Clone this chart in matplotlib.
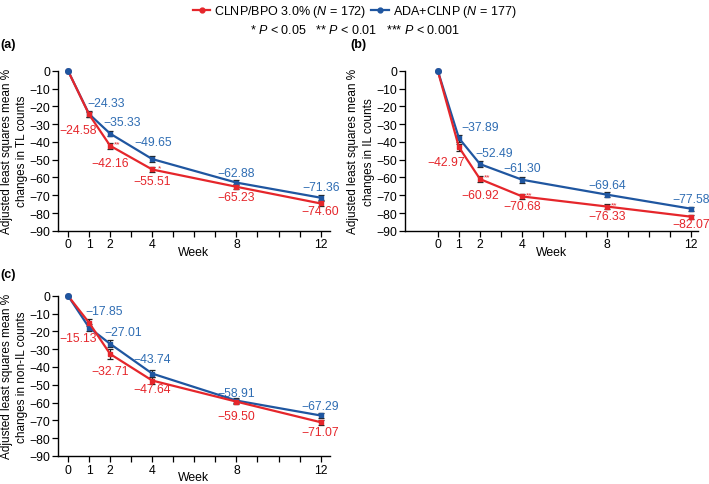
import matplotlib
matplotlib.use("Agg")
import matplotlib.pyplot as plt
from matplotlib.lines import Line2D
import numpy as np

plt.rcParams['font.family'] = ['Liberation Sans', 'DejaVu Sans']
plt.rcParams['mathtext.fontset'] = 'custom'
plt.rcParams['mathtext.rm'] = 'Liberation Sans'
plt.rcParams['mathtext.it'] = 'Liberation Sans:italic'

weeks = [0, 1, 2, 4, 8, 12]
week_ticks = [0, 1, 2, 4, 8, 12]

# Panel (a) TL counts
a_red = [0, -24.58, -42.16, -55.51, -65.23, -74.60]
a_blue = [0, -24.33, -35.33, -49.65, -62.88, -71.36]
a_red_se = [0, 1.5, 1.6, 1.5, 1.4, 1.4]
a_blue_se = [0, 1.5, 1.6, 1.5, 1.4, 1.4]
a_stars = {2: "**", 4: "*"}

# Panel (b) IL counts
b_red = [0, -42.97, -60.92, -70.68, -76.33, -82.07]
b_blue = [0, -37.89, -52.49, -61.30, -69.64, -77.58]
b_red_se = [0, 2.0, 1.8, 1.6, 1.4, 1.2]
b_blue_se = [0, 2.0, 1.8, 1.6, 1.4, 1.2]
b_stars = {2: "**", 4: "**", 8: "**"}

# Panel (c) non-IL counts
c_red = [0, -15.13, -32.71, -47.64, -59.50, -71.07]
c_blue = [0, -17.85, -27.01, -43.74, -58.91, -67.29]
c_red_se = [0, 2.0, 2.6, 2.2, 1.6, 1.5]
c_blue_se = [0, 2.0, 2.0, 1.8, 1.5, 1.5]
c_stars = {}

RED = '#e5262b'
BLUE = '#1f56a0'
RED_T = '#e5262b'
BLUE_T = '#2f6db3'

fig = plt.figure(figsize=(7.09, 4.85), dpi=100)

def panel(rect, xlim, red, blue, rse, bse, ylab, red_off, blue_off, stars, letter, letter_xy):
    ax = fig.add_axes(rect)
    ax.errorbar(weeks, blue, yerr=bse, color=BLUE, lw=1.6, marker='s', ms=3.5,
                ecolor='#222222', elinewidth=0.9, capsize=2.2, capthick=0.9, clip_on=False, zorder=3)
    ax.errorbar(weeks, red, yerr=rse, color=RED, lw=1.6, marker='s', ms=3.5,
                ecolor='#222222', elinewidth=0.9, capsize=2.2, capthick=0.9, clip_on=False, zorder=3)
    ax.plot([0], [0], 'o', color=BLUE, ms=4, zorder=5, clip_on=False)
    for i, w in enumerate(weeks):
        if w == 0:
            continue
        ax.annotate(f"\u2212{abs(blue[i]):.2f}", (w, blue[i]), xytext=blue_off[i],
                    textcoords='offset pixels', ha='center', va='center',
                    color=BLUE_T, fontsize=8.8, annotation_clip=False)
        ax.annotate(f"\u2212{abs(red[i]):.2f}", (w, red[i]), xytext=red_off[i],
                    textcoords='offset pixels', ha='center', va='center',
                    color=RED_T, fontsize=8.8, annotation_clip=False)
    for w, s in stars.items():
        i = weeks.index(w)
        ax.annotate(s, (w, red[i]), xytext=(7, 2), textcoords='offset pixels',
                    ha='center', va='center', color=RED, fontsize=6)
    ax.set_xlim(*xlim)
    ax.set_ylim(-90, 0)
    ax.set_yticks(np.arange(-90, 1, 10))
    ax.set_yticklabels([f"\u2212{abs(v)}" if v < 0 else "0" for v in range(-90, 1, 10)])
    ax.set_xticks(week_ticks)
    ax.set_xticks(range(0, 13), minor=True)
    ax.tick_params(axis='both', which='major', length=4, width=0.9, labelsize=8.8, pad=1.5)
    ax.tick_params(axis='x', which='minor', length=4, width=0.9)
    for sp in ['top', 'right']:
        ax.spines[sp].set_visible(False)
    for sp in ['left', 'bottom']:
        ax.spines[sp].set_linewidth(1.0)
    ax.set_xlabel("Week", fontsize=8.8, labelpad=-3)
    ax.set_ylabel(ylab, fontsize=8.5, labelpad=1, linespacing=1.4)
    fig.text(letter_xy[0], letter_xy[1], letter, fontsize=9, fontweight='bold', ha='left', va='center')
    return ax

a_red_off = [None, (-11, -16), (0, -17), (0, -12), (0, -10), (0, -8)]
a_blue_off = [None, (17, 11), (12, 12), (1, 17), (0, 10), (0, 11)]
b_red_off = [None, (-13, -15), (0, -16), (0, -10), (0, -9), (0, -7)]
b_blue_off = [None, (21, 11), (14, 11), (0, 12), (0, 10), (0, 10)]
c_red_off = [None, (-11, -15), (0, -17), (0, -8), (0, -14), (0, -10)]
c_blue_off = [None, (15, 17), (13, 12), (0, 15), (0, 8), (0, 9)]

panel([0.082, 0.522, 0.383, 0.330], (-0.47, 12.43), a_red, a_blue, a_red_se, a_blue_se,
      "Adjusted least squares mean %\nchanges in TL counts", a_red_off, a_blue_off, a_stars,
      "(a)", (0.0, 1 - 45 / 485))
panel([0.571, 0.522, 0.413, 0.330], (-1.56, 12.3), b_red, b_blue, b_red_se, b_blue_se,
      "Adjusted least squares mean %\nchanges in IL counts", b_red_off, b_blue_off, b_stars,
      "(b)", (350 / 709, 1 - 45 / 485))
panel([0.082, 0.058, 0.383, 0.330], (-0.47, 12.43), c_red, c_blue, c_red_se, c_blue_se,
      "Adjusted least squares mean %\nchanges in non-IL counts", c_red_off, c_blue_off, c_stars,
      "(c)", (0.0, 1 - 275 / 485))

handles = [Line2D([0], [0], color=RED, lw=1.6, marker='o', ms=3.5),
           Line2D([0], [0], color=BLUE, lw=1.6, marker='o', ms=3.5)]
labels = [r"CLNP/BPO 3.0% ($\mathit{N}$ = 172)", r"ADA+CLNP ($\mathit{N}$ = 177)"]
fig.legend(handles, labels, loc='center', bbox_to_anchor=(0.5, 1 - 12 / 485), ncol=2,
           frameon=False, fontsize=9, handlelength=1.4, handletextpad=0.3, columnspacing=0.4,
           borderpad=0)
fig.text(0.5, 1 - 31 / 485, r"* $\mathit{P}$ < 0.05   ** $\mathit{P}$ < 0.01   *** $\mathit{P}$ < 0.001",
         ha='center', va='center', fontsize=9)

fig.savefig("out.png", dpi=100)
